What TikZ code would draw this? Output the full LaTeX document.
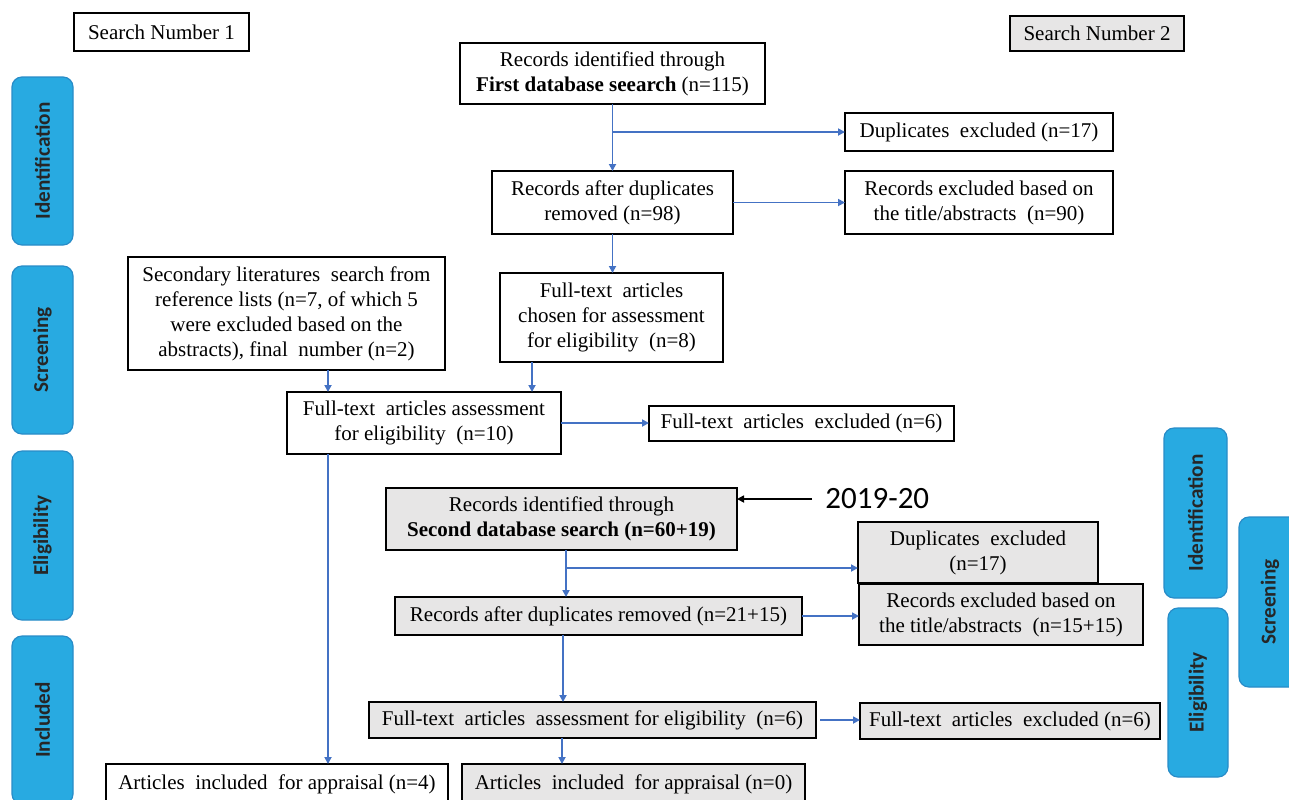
\documentclass[tikz,border=0pt]{standalone}
\usepackage{fontspec}
\setmainfont{Liberation Serif}
\newfontfamily\calibrifont{Carlito}
\usetikzlibrary{arrows.meta}
\definecolor{boxgray}{RGB}{231,230,230}
\definecolor{arrblue}{RGB}{68,114,196}
\definecolor{tabfill}{RGB}{40,170,225}
\definecolor{tabline}{RGB}{40,140,200}
\newcommand\bx[7]{\node[#6, minimum width={(#4-#2)*0.5pt}, minimum height={(#5-#3)*0.5pt}] (#1) at ({(#2+#4)/2},{(#3+#5)/2}) {#7};}
\newcommand\tb[6]{\node[tab, minimum width={#5*0.5pt}, minimum height={#4*0.5pt}] (#1) at (#2,#3) {#6};}
\begin{document}
\begin{tikzpicture}[x=0.5pt,y=-0.5pt,
 box/.style={draw=black, line width=0.9pt, fill=white, align=center, inner sep=0pt, outer sep=0pt, font=\fontsize{10.5pt}{12.5pt}\selectfont},
 gbox/.style={box, fill=boxgray},
 arr/.style={draw=arrblue, line width=0.85pt, -{Triangle[length=3.5pt,width=3.5pt]}},
 barr/.style={draw=black, line width=0.8pt, -{Triangle[length=3.5pt,width=3.5pt]}},
 tab/.style={draw=tabline, fill=tabfill, line width=0.6pt, rounded corners=5pt, rotate=90, inner sep=0pt, font=\calibrifont\bfseries\fontsize{10.6pt}{12pt}\selectfont, text=black!85},
 yearlab/.style={font=\calibrifont\fontsize{15.5pt}{18pt}\selectfont, inner sep=0pt, anchor=west}]
\useasboundingbox (0,0) rectangle (1289,799);
\clip (0,0) rectangle (1289,799);
\fill[white] (0,0) rectangle (1289,799);

% phase tabs
\tb{tl1}{42.5}{161}{61}{168}{Identification}
\tb{tl2}{42.5}{350}{61}{168}{Screening}
\tb{tl3}{42.5}{535.5}{61}{169}{Eligibility}
\tb{tl4}{42.5}{720}{61}{168}{Included}
\tb{tr1}{1195.5}{513}{63}{170}{Identification}
\tb{tr2}{1270}{602}{62}{170}{Screening}
\tb{tr3}{1198}{692.5}{60}{169}{Eligibility}

% boxes
\bx{sn1}{74}{13}{249}{51}{box}{Search Number 1}
\bx{sn2}{1010}{16}{1184}{51}{gbox}{Search Number 2}
\bx{r1}{460}{43}{765}{104}{box}{Records identified through\\\textbf{First database seearch} (n=115)}
\bx{d1}{845}{113}{1113}{151}{box}{Duplicates~ excluded (n=17)}
\bx{ra1}{492}{171}{733}{234}{box}{Records after duplicates\\removed (n=98)}
\bx{e1}{845}{171}{1113}{234}{box}{Records excluded based on\\the title/abstracts~ (n=90)}
\bx{sec}{128}{257}{445}{370}{box}{Secondary literatures~ search from\\reference lists (n=7, of which 5\\were excluded based on the\\abstracts), final~ number (n=2)}
\bx{ft1}{500}{273}{723}{362}{box}{Full-text~ articles\\chosen for assessment\\for eligibility~ (n=8)}
\bx{fta1}{287}{392}{561}{454}{box}{Full-text~ articles assessment\\for eligibility~ (n=10)}
\bx{fte1}{649}{406}{954}{441}{box}{Full-text~ articles~ excluded (n=6)}
\bx{r2}{386}{488}{737}{550}{gbox}{Records identified through\\\textbf{Second database search (n=60+19)}}
\bx{d2}{858}{522}{1098}{583}{gbox}{Duplicates~ excluded\\(n=17)}
\bx{e2}{859}{584}{1143}{645}{gbox}{Records excluded based on\\the title/abstracts~ (n=15+15)}
\bx{ra2}{395}{597}{802}{635}{gbox}{Records after duplicates removed (n=21+15)}
\bx{fta2}{369}{702}{816}{738}{gbox}{Full-text~ articles~ assessment for eligibility~ (n=6)}
\bx{fte2}{860}{703}{1160}{739}{gbox}{Full-text~ articles~ excluded (n=6)}
\bx{inc1}{106}{764}{448}{805}{box}{Articles~ included~ for appraisal (n=4)}
\bx{inc2}{462}{764}{805}{805}{gbox}{Articles~ included~ for appraisal (n=0)}

\node[yearlab] (yr) at (825,499) {2019-20};

% helper coordinates
\coordinate (x532) at (532,0);
\coordinate (x328) at (328,0);
\coordinate (x566) at (566,0);
\coordinate (x563) at (563,0);
\coordinate (x562) at (562,0);
\coordinate (y568) at (0,568);

% connectors
\draw[arr] (r1.south) -- (ra1.north);
\draw[arr] (r1.south |- d1.west) -- (d1.west);
\draw[arr] (ra1.east) -- (e1.west);
\draw[arr] (ra1.south) -- (ra1.south |- ft1.north);
\draw[arr] (x532 |- ft1.south) -- (x532 |- fta1.north);
\draw[arr] (x328 |- sec.south) -- (x328 |- fta1.north);
\draw[arr] (fta1.east) -- (fte1.west |- fta1.east);
\draw[arr] (x328 |- fta1.south) -- (x328 |- inc1.north);
\draw[arr] (x566 |- r2.south) -- (x566 |- ra2.north);
\draw[arr] (x566 |- y568) -- (d2.west |- y568);
\draw[arr] (ra2.east) -- (e2.west |- ra2.east);
\draw[arr] (x563 |- ra2.south) -- (x563 |- fta2.north);
\draw[arr] ([xshift=2pt]fta2.east) -- (fte2.west |- fta2.east);
\draw[arr] (x562 |- fta2.south) -- (x562 |- inc2.north);
\draw[barr] ([xshift=-6.5pt]yr.west) -- (r2.east |- yr.west);
\end{tikzpicture}
\end{document}
